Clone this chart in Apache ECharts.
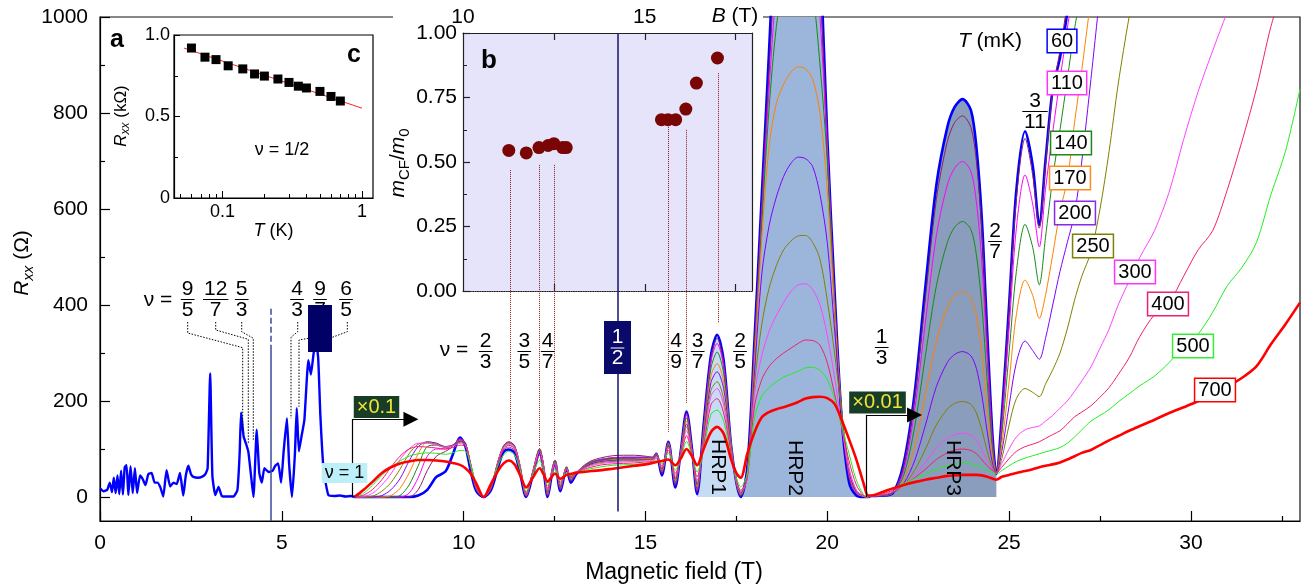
<!DOCTYPE html>
<html><head><meta charset="utf-8">
<script src="https://cdn.jsdelivr.net/npm/echarts@6/dist/echarts.min.js"></script>
<style>html,body{margin:0;padding:0;background:#fff}#c{width:1306px;height:587px}</style>
</head><body><div id="c"></div>
<script>
// ---------------- DATA ----------------
// low-field trace (60 mK, full scale), field in T, Rxx in Ohm
const fieldLow = [0.0,0.1,0.2,0.27,0.33,0.38,0.43,0.48,0.53,0.58,
  0.63,0.68,0.73,0.78,0.84,0.9,0.96,1.02,1.1,1.17,
  1.25,1.33,1.42,1.5,1.58,1.66,1.74,1.83,1.93,2.02,
  2.11,2.2,2.29,2.36,2.43,2.5,2.57,2.7,2.8,2.9,
  2.96,3.03,3.09,3.17,3.26,3.35,3.5,3.67,3.78,3.84,
  3.88,3.95,4.02,4.08,4.16,4.22,4.31,4.38,4.45,4.52,
  4.64,4.75,4.82,4.9,4.98,5.05,5.14,5.2,5.28,5.36,
  5.41,5.47,5.55,5.62,5.73,5.8,5.86,5.93,6.0,6.06,
  6.15,6.28,6.45,6.6,6.75,6.9,7.0];
const r60Low = [18,12,15,30,10,40,8,45,6,55,
  5,62,66,4,64,8,60,8,45,38,
  25,48,50,30,30,20,1,56,22,30,
  27,50,3,45,65,48,42,40,42,48,
  60,258,45,4,21,2,1,1,15,90,
  176,126,110,94,40,0,140,50,30,60,
  52,55,65,70,30,95,164,70,0,90,
  185,95,130,160,285,255,290,330,290,170,
  56,4,2,3,1,2,0];

// high-field traces (x0.1 from 7 T, x0.01 from 21.1 T as plotted)
const fieldHigh = [7.0,7.25,7.5,7.75,8.0,8.25,8.5,8.75,9.0,9.25,9.5,9.7,9.9,10.05,10.2,10.35,10.55,
  10.75,10.95,11.1,11.24,11.4,11.55,11.72,11.9,12.09,12.2,12.31,12.42,12.51,12.66,12.83,12.95,
  13.1,13.3,13.5,13.8,14.1,14.4,14.7,15.0,15.2,15.3,15.45,
  15.63,15.82,15.97,16.13,16.28,16.42,16.6,16.8,16.97,17.15,17.35,17.5,17.62,
  17.8,18.0,18.2,18.4,18.6,18.8,19.0,19.2,19.4,19.6,19.8,20.0,20.2,20.4,20.6,20.8,21.0,21.12,
  21.2,21.5,21.8,22.1,22.4,22.7,23.0,23.3,23.5,23.72,23.95,24.1,24.25,24.4,24.55,24.65,
  24.8,25.0,25.2,25.44,25.65,25.83,26.0,26.2,26.4,26.6,26.8,27.0,27.25,27.5,27.75,28.0,28.3,28.6,29.0,29.4,29.8,30.2,30.6,31.0,31.4,31.8,32.2,32.6,33.0];

const r60 = [0,0,0,0,0,0,0,3,15,42,53,88,124,105,52,12,0,
  14,63,94,99,92,50,0,45,94,55,0,45,74,12,60,30,
  48,62,71,77,80,81,81,81,81,90,45,
  115,20,95,178,100,6,150,295,338,285,110,30,0,
  60,330,630,930,1250,1500,1650,1700,1680,1500,1150,750,430,160,30,3,0,0,
  2,3,8,70,215,440,650,770,812,829,806,730,580,340,120,48,
  170,400,640,762,690,567,700,850,915,1010,1150];
const r80 = [0,0,0,0,0,0,0,15,55,85,95,105,122,112,60,15,0,
  16,70,100,108,100,58,1,48,98,60,2,48,77,15,62,33,
  49,65,75,82,86,87,87,85,83,92,49,
  114,24,95,175,100,10,147,290,331,280,112,31,2,
  55,320,610,890,1150,1350,1450,1490,1470,1350,1080,740,420,165,40,7,1,0,
  2,3,8,65,205,415,620,740,780,794,770,700,555,325,115,48,
  165,390,620,747,670,560,690,845,930,1030,1150];
const r110 = [0,0,0,0,0,0,8,40,85,100,100,108,120,112,62,16,0,
  18,73,104,112,104,62,2,50,100,62,4,50,77,17,63,35,
  50,64,73,79,82,83,83,83,82,91,52,
  113,28,94,171,99,14,143,282,320,272,114,28,3,
  50,305,590,850,1060,1180,1250,1280,1270,1200,1000,730,410,170,45,9,1,0,
  2,3,8,55,180,365,545,650,685,699,678,615,490,290,105,49,
  150,350,560,671,610,521,640,760,870,975,1080];
const r140 = [0,0,0,0,0,3,25,65,105,108,103,108,118,112,63,17,0,
  19,75,106,114,106,64,3,52,101,64,6,51,77,19,63,37,
  50,63,72,77,80,81,81,81,81,90,54,
  112,31,93,165,97,18,138,268,302,258,115,29,4,
  48,295,570,810,980,1070,1100,1110,1100,1050,900,700,400,175,50,10,1,0,
  2,3,8,45,145,295,440,530,562,574,557,505,400,240,95,50,
  130,300,470,568,520,442,540,665,765,870,975,1060];
const r170 = [0,0,0,0,3,18,50,90,115,112,105,108,117,112,64,18,0,
  20,76,107,115,107,65,4,53,101,65,8,52,76,21,62,39,
  51,62,70,75,78,79,79,80,80,89,56,
  110,34,92,158,95,22,132,252,278,240,110,30,6,
  45,285,540,730,820,860,885,896,892,870,800,640,390,170,50,10,1,0,
  2,3,8,35,105,215,325,395,420,428,415,378,300,180,80,50,
  110,240,380,452,420,372,420,505,595,660,780,890,1040];
const r200 = [0,0,0,3,15,38,75,105,115,112,105,108,116,112,65,19,0,
  21,76,107,115,107,66,5,53,100,65,10,52,75,22,61,40,
  51,61,69,74,76,77,77,78,79,88,58,
  108,37,90,152,93,26,126,238,261,226,106,31,8,
  42,260,465,565,625,668,695,708,705,688,630,530,350,170,52,11,2,0,
  2,3,8,28,75,150,230,280,297,303,294,268,212,135,68,50,
  95,190,280,325,305,287,330,400,470,530,590,700,870,1050];
const r250 = [0,0,2,12,30,58,90,110,113,110,104,107,114,110,66,20,0,
  22,75,106,113,105,66,6,52,98,64,12,51,73,24,60,41,
  51,60,67,72,74,75,76,77,78,86,60,
  105,40,88,146,91,30,120,222,240,205,102,32,10,
  40,235,360,435,482,515,533,544,545,530,495,410,300,175,60,14,2,0,
  2,4,10,25,55,100,150,183,195,199,193,175,140,95,60,50,
  80,150,205,226,218,209,235,265,300,350,410,460,510,600,720,860,1000,1120];
const r300 = [0,1,8,25,48,78,100,112,112,108,104,106,112,108,67,22,0,
  23,74,103,110,102,65,7,51,94,62,14,50,70,26,58,42,
  51,59,65,70,72,73,74,75,76,84,62,
  102,44,85,138,89,35,114,210,226,192,98,34,12,
  38,215,295,345,378,405,428,442,444,432,400,337,250,145,58,14,2,0,
  2,5,12,25,45,72,102,122,130,133,129,118,98,75,57,50,
  70,100,125,140,145,148,158,170,185,200,220,242,271,310,350,400,450,500,555,635,745,845,930,1010,1080];
const r400 = [0,4,16,36,62,85,100,105,104,102,100,103,108,105,68,24,0,
  24,72,98,104,97,62,9,49,87,59,18,48,65,29,55,43,
  51,57,62,67,69,70,71,73,74,81,65,
  98,49,82,128,87,42,106,192,205,175,93,36,14,
  42,190,245,272,288,300,310,320,327,326,316,280,215,145,75,25,3,0,
  2,6,14,25,40,58,78,92,98,100,97,90,78,65,55,50,
  62,80,95,105,110,115,122,130,138,152,167,177,190,208,228,255,290,335,380,405,460,515,555,640,740,850,980,1080];
const r500 = [0,8,25,45,62,75,85,90,92,91,89,92,97,96,65,26,0,
  25,67,88,95,88,57,12,46,77,54,24,45,58,33,51,45,
  51,55,59,63,66,67,68,70,72,77,69,
  92,56,80,116,85,52,100,172,181,158,86,40,21,
  48,165,210,228,240,250,256,262,269,270,264,245,205,148,90,35,5,0,
  2,8,18,28,38,48,58,65,68,70,69,66,62,57,52,48,
  55,65,74,81,86,90,94,98,103,112,125,140,158,170,182,198,215,232,252,280,315,340,385,440,478,530,630,720,850];
const r700 = [0,15,32,50,62,70,74,77,77,76,74,71,67,60,48,28,0,
  27,55,70,76,68,46,20,40,60,47,32,42,49,38,46,48,
  51,52,54,56,59,62,65,68,71,73,75,
  78,66,80,100,85,66,100,135,146,132,80,50,40,
  90,135,166,177,183,187,192,198,205,208,209,206,194,160,120,78,28,3,
  3,10,18,25,31,36,40,44,45,46,46,46,45,42,38,36,
  42,46,50,54,58,62,65,68,72,78,85,92,98,108,118,127,138,148,161,175,187,200,217,230,248,272,318,360,405];

// inset c: Rxx at nu=1/2 vs T
const insetCTemp = [0.06,0.075,0.09,0.11,0.14,0.17,0.2,0.25,0.3,0.35,0.4,0.5,0.6,0.7];
const insetCRes = [0.92,0.864,0.849,0.811,0.792,0.761,0.748,0.73,0.709,0.686,0.675,0.654,0.623,0.595];
const insetCFitTemp = [0.053,1.0];
const insetCFitRes = [0.92,0.551];
// inset b: CF mass vs B
const insetBField = [11.26,11.74,12.09,12.34,12.5,12.74,12.84,15.46,15.64,15.85,16.13,16.42,17.0];
const insetBMass = [0.545,0.535,0.556,0.564,0.571,0.556,0.556,0.664,0.664,0.664,0.705,0.806,0.903];

// ticks / labels
const xMajor = [0,5,10,15,20,25,30];
const xMinor = [2.5,7.5,12.5,17.5,22.5,27.5,32.5];
const yMajor = [0,200,400,600,800,1000];
const yMinor = [100,300,500,700,900];
const cTickMinor = [0.05,0.06,0.07,0.08,0.09,0.2,0.3,0.4,0.5,0.6,0.7,0.8,0.9];
const cTickMajor = [0.1,1];
const bTicks = [12.5,15,17.5];
const bLabels = [10,15];

// ---------------- CHART ----------------
const F = '"Liberation Sans", Arial, Helvetica, sans-serif';
function zip(xs, ys){const o=[];for(let i=0;i<xs.length&&i<ys.length;i++)o.push([xs[i],ys[i]]);return o;}

const temps = [
  {name:'60',  data:r60,  color:'#0000ff', w:2.6},
  {name:'80',  data:r80,  color:'#8b2260', w:1},
  {name:'110', data:r110, color:'#ff00ff', w:1},
  {name:'140', data:r140, color:'#178a17', w:1},
  {name:'170', data:r170, color:'#ff8000', w:1},
  {name:'200', data:r200, color:'#8000ff', w:1},
  {name:'250', data:r250, color:'#808000', w:1},
  {name:'300', data:r300, color:'#ff44ff', w:1},
  {name:'400', data:r400, color:'#f01f70', w:1},
  {name:'500', data:r500, color:'#22ee22', w:1},
  {name:'700', data:r700, color:'#ff0000', w:2.6}
];

const blueHigh = zip(fieldHigh, r60);
const hrp = [
  {range:[16.42,17.62], color:'#c6dcf5'},
  {range:[17.62,21.12], color:'#9bb6da'},
  {range:[21.12,24.65], color:'#8a9dbc'}
];

const series = [];
hrp.forEach(h => series.push({
  type:'line', xAxisIndex:0, yAxisIndex:0, z:1, silent:true, symbol:'none', smooth:0.3,
  data: blueHigh.filter(p => p[0] >= h.range[0] && p[0] <= h.range[1]),
  lineStyle:{width:0, opacity:0}, areaStyle:{color:h.color, opacity:1}
}));
temps.forEach(t => series.push({
  type:'line', name:t.name, xAxisIndex:0, yAxisIndex:0, z:2, silent:true, symbol:'none', smooth:0.3,
  data: zip(fieldHigh, t.data), lineStyle:{color:t.color, width:t.w}
}));

function seg(b1, r1, b2, r2, style, endSym){
  const e = {coord:[b2, r2]};
  if (endSym) { e.symbol = 'triangle'; e.symbolSize = 15; }
  return [{coord:[b1, r1], lineStyle:style}, e];
}
const darkDot = {color:'#8b1c1c', width:1, type:'dotted'};
const black = {color:'#000', width:1.2, type:'solid'};
series.push({
  type:'line', xAxisIndex:0, yAxisIndex:0, z:3, silent:true, symbol:'none', smooth:0.15,
  data: zip(fieldLow, r60Low), lineStyle:{color:'#0000ff', width:2.4},
  markLine:{silent:true, symbol:'none', label:{show:false}, animation:false,
    data:[
      seg(14.23, 966, 14.23, -30, {color:'#141470', width:1.5, type:'solid'}),
      seg(4.7, 306, 4.7, -50, {color:'#3c4a9c', width:1.5, type:'solid'}),
      seg(4.7, 392, 4.7, 306, {color:'#3c4a9c', width:1.5, type:'dashed'}),
      seg(11.27, 681, 11.27, 119, darkDot),
      seg(12.09, 692, 12.09, 105, darkDot),
      seg(12.49, 692, 12.49, 87, darkDot),
      seg(15.62, 779, 15.62, 136, darkDot),
      seg(16.12, 765, 16.12, 195, darkDot),
      seg(17.0, 883, 17.0, 362, darkDot),
      seg(6.93, 0, 6.93, 162, black),
      seg(6.93, 162, 8.55, 162, black, true),
      seg(21.08, 0, 21.08, 171, black),
      seg(21.08, 171, 22.4, 171, black, true)
    ]}
});
// inset c
series.push({type:'line', xAxisIndex:2, yAxisIndex:2, silent:true, symbol:'none', z:5,
  data: zip(insetCFitTemp, insetCFitRes), lineStyle:{color:'#ff2020', width:1}});
series.push({type:'scatter', xAxisIndex:2, yAxisIndex:2, silent:true, symbol:'rect', symbolSize:9, z:6,
  data: zip(insetCTemp, insetCRes), itemStyle:{color:'#000', opacity:1}});
// inset b
series.push({type:'scatter', xAxisIndex:4, yAxisIndex:3, silent:true, symbol:'circle', symbolSize:13, z:6,
  data: zip(insetBField, insetBMass), itemStyle:{color:'#7a0505', opacity:1}});

const tickStyle = {color:'#000', width:1.2};
const option = {
  animation:false,
  textStyle:{fontFamily:F},
  grid:[
    {left:100, top:17, width:1200, height:504, show:true, borderColor:'#111', borderWidth:1.2, backgroundColor:'rgba(0,0,0,0)'},
    {left:174, top:35, width:199, height:163, show:true, borderColor:'#000', borderWidth:1.2, backgroundColor:'#fff'},
    {left:463, top:33, width:289, height:258, show:true, borderWidth:0, backgroundColor:'#e6e4fa'}
  ],
  xAxis:[
    {gridIndex:0, type:'value', position:'bottom', min:0, max:33,
      axisLine:{onZero:false, lineStyle:tickStyle},
      axisTick:{inside:true, length:10, customValues:xMajor, lineStyle:tickStyle},
      axisLabel:{customValues:xMajor, fontSize:21, color:'#000', margin:12, fontFamily:F, formatter:v => String(v)},
      splitLine:{show:false}},
    {gridIndex:0, type:'value', position:'bottom', min:0, max:33,
      axisLine:{show:false, onZero:false}, axisTick:{inside:true, length:5, customValues:xMinor, lineStyle:tickStyle},
      axisLabel:{show:false}, splitLine:{show:false}},
    {gridIndex:1, type:'log', logBase:10, position:'bottom', min:0.045, max:1.2,
      axisLine:{onZero:false, lineStyle:{color:'#000', width:1.2}},
      axisTick:{inside:true, length:4, customValues:cTickMinor, lineStyle:{color:'#000', width:1}},
      axisLabel:{customValues:cTickMajor, fontSize:18, color:'#000', margin:5, fontFamily:F,
        formatter:v => (v >= 0.99 ? '1' : '0.1')},
      splitLine:{show:false}, minorSplitLine:{show:false},
      name:'{i|T} (K)', nameLocation:'middle', nameGap:23,
      nameTextStyle:{fontSize:18, color:'#000', fontFamily:F, rich:{i:{fontStyle:'italic', fontSize:18, fontFamily:F}}}},
    {gridIndex:1, type:'log', logBase:10, position:'bottom', min:0.045, max:1.2,
      axisLine:{show:false, onZero:false}, axisTick:{inside:true, length:7, customValues:cTickMajor, lineStyle:{color:'#000', width:1}},
      axisLabel:{show:false}, splitLine:{show:false}},
    {gridIndex:2, type:'value', position:'top', min:10, max:17.95, z:10,
      axisLine:{onZero:false, lineStyle:{color:'#222', width:1.2}},
      axisTick:{inside:true, length:7, customValues:bTicks, lineStyle:{color:'#222', width:1.2}},
      axisLabel:{customValues:bLabels, fontSize:21, color:'#000', margin:5, fontFamily:F},
      splitLine:{show:false}},
    {gridIndex:2, type:'value', position:'bottom', min:10, max:17.95,
      axisLine:{onZero:false, lineStyle:{color:'#222', width:1.2, type:'dotted'}},
      axisTick:{inside:true, length:7, customValues:bTicks, lineStyle:{color:'#222', width:1.2}},
      axisLabel:{show:false}, splitLine:{show:false}}
  ],
  yAxis:[
    {gridIndex:0, type:'value', position:'left', min:-50, max:1000,
      axisLine:{show:true, onZero:false, lineStyle:tickStyle},
      axisTick:{show:true, inside:true, length:10, customValues:yMajor, lineStyle:tickStyle},
      axisLabel:{customValues:yMajor, fontSize:21, color:'#000', margin:12, fontFamily:F, formatter:v => String(v)},
      splitLine:{show:false}},
    {gridIndex:0, type:'value', position:'left', min:-50, max:1000,
      axisLine:{show:false, onZero:false},
      axisTick:{show:true, inside:true, length:5, customValues:yMinor, lineStyle:tickStyle},
      axisLabel:{show:false}, splitLine:{show:false}},
    {gridIndex:1, type:'value', position:'left', min:0, max:1, interval:0.5,
      axisLine:{show:true, onZero:false, lineStyle:{color:'#000', width:1.2}},
      axisTick:{show:true, inside:true, length:6, lineStyle:{color:'#000'}},
      minorTick:{show:true, splitNumber:2, length:4, lineStyle:{color:'#000'}},
      axisLabel:{fontSize:18, color:'#000', margin:4, fontFamily:F, formatter:v => (v === 0 ? '0' : v.toFixed(1))},
      splitLine:{show:false}, minorSplitLine:{show:false}},
    {gridIndex:2, type:'value', position:'left', min:0, max:1, interval:0.25, z:10,
      axisLine:{show:true, onZero:false, lineStyle:{color:'#222', width:1.2}},
      axisTick:{show:true, inside:true, length:7, lineStyle:{color:'#222', width:1.2}},
      minorTick:{show:true, splitNumber:2, length:4, lineStyle:{color:'#222'}},
      axisLabel:{fontSize:21, color:'#000', margin:6, fontFamily:F, formatter:v => v.toFixed(2)},
      splitLine:{show:false}, minorSplitLine:{show:false}},
    {gridIndex:2, type:'value', position:'right', min:0, max:1,
      axisLine:{show:true, onZero:false, lineStyle:{color:'#222', width:1.2}},
      axisTick:{show:false}, axisLabel:{show:false}, splitLine:{show:false}}
  ],
  series: series
};

// ---------------- ANNOTATIONS (graphic) ----------------
const G = [];
function T(x, y, text, size, o){
  o = o || {};
  const st = Object.assign({text:text, fontSize:size, fontFamily:F, fill:'#000',
    align:'center', verticalAlign:'middle', textAlign:'center', textVerticalAlign:'middle'}, o.style || {});
  const el = {type:'text', x:x, y:y, z:o.z || 100, silent:true, style:st};
  if (o.rotation) el.rotation = o.rotation;
  G.push(el);
}
function frac(cx, bar, num, den, color){
  color = color || '#000';
  const n = Math.max(num.length, den.length);
  const w = n * 11.7 + 2;
  T(cx, bar - 10, num, 21, {style:{fill:color}});
  G.push({type:'line', z:100, silent:true, shape:{x1:cx - w/2, y1:bar + 0.5, x2:cx + w/2, y2:bar + 0.5}, style:{stroke:color, lineWidth:1}});
  T(cx, bar + 11, den, 21, {style:{fill:color}});
}
function dots(pts){
  G.push({type:'polyline', z:99, silent:true, shape:{points:pts}, style:{stroke:'#000', lineWidth:1, lineDash:[1.5,1.5], fill:null}});
}
function rect(x, y, w, h, fill, z){
  G.push({type:'rect', z:z || 100, silent:true, shape:{x:x, y:y, width:w, height:h}, style:{fill:fill}});
}
function box(cx, cy, text, color){
  T(cx, cy, text, 20, {style:{backgroundColor:'#fff', borderColor:color, borderWidth:1.5, padding:[2,3,0,3]}});
}

// mask for main frame top behind inset b top labels
rect(393, 4, 370, 28, '#fff', 1);

// axis titles
T(674, 573, 'Magnetic field (T)', 23);
T(22, 263, '{i|R}{s|xx} (Ω)', 21, {rotation:Math.PI/2, style:{rich:{
  i:{fontStyle:'italic', fontSize:21, fontFamily:F, lineHeight:28, verticalAlign:'middle'},
  s:{fontStyle:'italic', fontSize:15, fontFamily:F, lineHeight:28, verticalAlign:'bottom'}}}});
T(121, 116, '{i|R}{s|xx} (kΩ)', 17, {rotation:Math.PI/2, style:{rich:{
  i:{fontStyle:'italic', fontSize:17, fontFamily:F, lineHeight:22, verticalAlign:'middle'},
  s:{fontStyle:'italic', fontSize:12, fontFamily:F, lineHeight:22, verticalAlign:'bottom'}}}});
T(398, 163, '{i|m}{s|CF}/{i|m}{s|0}', 21, {rotation:Math.PI/2, style:{rich:{
  i:{fontStyle:'italic', fontSize:21, fontFamily:F, lineHeight:28, verticalAlign:'middle'},
  s:{fontSize:15, fontFamily:F, lineHeight:28, verticalAlign:'bottom'}}}});
T(735, 16, '{i|B} (T)', 21, {z:110, style:{rich:{i:{fontStyle:'italic', fontSize:21, fontFamily:F}}}});

// panel letters
T(117, 40, 'a', 25, {style:{fontWeight:'bold'}});
T(354, 55, 'c', 25, {style:{fontWeight:'bold'}});
T(489, 61, 'b', 26, {style:{fontWeight:'bold'}});
T(282, 150, 'ν = 1/2', 18);

// low-field filling factors
T(158, 300, 'ν =', 21);
frac(187.7, 299, '9', '5');
frac(215.7, 299, '12', '7');
frac(241.7, 299, '5', '3');
frac(297, 299, '4', '3');
frac(320, 299, '9', '7');
frac(346, 299, '6', '5');
rect(308, 305, 24, 47, '#000066', 105);
dots([[187.7,322],[187.7,333],[242.7,347.7],[242.7,431.7]]);
dots([[215.7,322],[215.7,330],[248.3,339.3],[248.3,443.3]]);
dots([[241.7,322],[241.7,331.7],[253.3,338.3],[253.3,440]]);
dots([[297.7,322],[297.7,331.7],[291,337.3],[291,418.3]]);
dots([[308.3,338.3],[299,340],[299,406.7]]);
dots([[347.3,322],[347.3,331.7],[332.3,337.3]]);

// high-field filling factors
T(454, 350, 'ν =', 21);
frac(485.7, 351, '2', '3');
frac(524.3, 351, '3', '5');
frac(547.7, 351, '4', '7');
rect(604, 321, 27, 53, '#0a0a6b', 100);
frac(617.5, 347.5, '1', '2', '#fff');
frac(676, 351, '4', '9');
frac(697.7, 351, '3', '7');
frac(740, 351, '2', '5');
frac(881.7, 347, '1', '3');
frac(995, 241, '2', '7');
frac(1035, 111, '3', '11');

// scaling markers
T(376.5, 407, '×0.1', 20, {style:{fill:'#f3e23c', backgroundColor:'#173d26', padding:[2,3,0,3]}});
T(877.5, 402.5, '×0.01', 20, {style:{fill:'#f3e23c', backgroundColor:'#173d26', padding:[2,3,0,3]}});
T(344.5, 473, 'ν = 1', 18, {style:{backgroundColor:'#bdeff8', padding:[2,3,0,3]}});

// HRP labels
T(718, 467, 'HRP1', 21, {rotation:-Math.PI/2});
T(795, 468, 'HRP2', 21, {rotation:-Math.PI/2});
T(953, 468, 'HRP3', 21, {rotation:-Math.PI/2});

// temperature labels
T(990, 41, '{i|T} (mK)', 21, {style:{rich:{i:{fontStyle:'italic', fontSize:21, fontFamily:F}}}});
box(1062, 41, '60', '#0000ff');
box(1067, 83, '110', '#ff33ff');
box(1071, 143, '140', '#178a17');
box(1070, 178, '170', '#ff8c1a');
box(1075, 213, '200', '#8a2be2');
box(1093, 246, '250', '#808000');
box(1135, 272, '300', '#ff33ff');
box(1168, 304, '400', '#f01f70');
box(1193, 346, '500', '#33ee33');
box(1215, 390, '700', '#ff0000');

option.graphic = {elements: G};

const chart = echarts.init(document.getElementById('c'), null, {renderer:'canvas'});
chart.setOption(option);
</script>
</body></html>
